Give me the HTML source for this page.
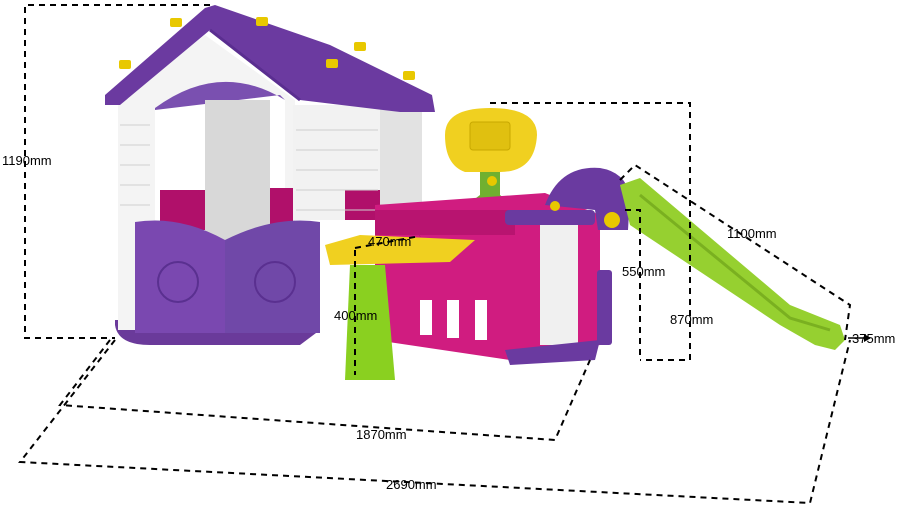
<!DOCTYPE html>
<html><head><meta charset="utf-8"><style>
html,body{margin:0;padding:0;background:#fff;}
svg{display:block}
text{font-family:"Liberation Sans",sans-serif;font-size:13px;fill:#000}
</style></head><body>
<svg width="900" height="507" viewBox="0 0 900 507" xmlns="http://www.w3.org/2000/svg">
<rect width="900" height="507" fill="#fff"/>
<!-- house base -->
<path d="M115 325 Q118 345 150 345 L300 345 L320 330 L320 320 L115 320Z" fill="#6a3a9a"/>
<!-- walls -->
<path d="M118 100 L205 35 L295 100 L295 330 L118 330Z" fill="#f4f4f4"/>
<rect x="293" y="105" width="87" height="115" fill="#f2f2f2"/>
<rect x="380" y="105" width="42" height="115" fill="#e2e2e2"/>
<!-- opening -->
<path d="M155 108 Q220 60 285 100 L285 220 L155 220Z" fill="#fff"/>
<path d="M155 108 Q220 60 285 100 L280 95 L155 110Z" fill="#7a50b0"/>
<rect x="205" y="100" width="65" height="200" fill="#d8d8d8"/>
<rect x="160" y="190" width="45" height="40" fill="#b0106a"/>
<rect x="270" y="188" width="23" height="40" fill="#b0106a"/>
<rect x="345" y="190" width="35" height="30" fill="#b0106a"/>
<g stroke="#cfcfcf" stroke-width="1">
<path d="M120 125 H150 M120 145 H150 M120 165 H150 M120 185 H150 M120 205 H150"/>
<path d="M296 130 H378 M296 150 H378 M296 170 H378 M296 190 H378 M296 210 H378"/>
</g>
<!-- roof -->
<path d="M105 95 L205 8 L215 5 L330 45 L432 95 L435 112 L400 112 L300 100 L210 30 L120 105 L105 105 Z" fill="#6b3aa0"/>
<path d="M210 30 L300 100" stroke="#5a2e90" stroke-width="3"/>
<g fill="#e8c800">
<rect x="170" y="18" width="12" height="9" rx="2"/><rect x="256" y="17" width="12" height="9" rx="2"/>
<rect x="354" y="42" width="12" height="9" rx="2"/><rect x="326" y="59" width="12" height="9" rx="2"/>
<rect x="403" y="71" width="12" height="9" rx="2"/><rect x="119" y="60" width="12" height="9" rx="2"/>
</g>
<!-- purple fence -->
<path d="M135 222 Q180 215 225 240 L225 333 L135 333Z" fill="#7a48b0"/>
<path d="M225 240 Q275 215 320 222 L320 333 L225 333Z" fill="#7048a8"/>
<circle cx="178" cy="282" r="20" fill="none" stroke="#5a3090" stroke-width="2"/>
<circle cx="275" cy="282" r="20" fill="none" stroke="#5a3090" stroke-width="2"/>
<!-- hoop -->
<path d="M445 135 Q445 108 490 108 Q537 108 537 135 Q535 172 500 172 L465 172 Q445 165 445 135Z" fill="#f0d020"/>
<rect x="470" y="122" width="40" height="28" rx="3" fill="#e0c010" stroke="#c8a800"/>
<path d="M480 172 L500 172 L500 195 L520 210 L460 210 L480 195Z" fill="#70b030"/>
<circle cx="492" cy="181" r="5" fill="#e8c800"/>
<!-- pink enclosure -->
<path d="M375 205 L545 193 L600 215 L600 345 L510 360 L375 340Z" fill="#d01c80"/>
<rect x="375" y="210" width="140" height="25" fill="#b81470"/>
<rect x="540" y="225" width="38" height="120" fill="#f0f0f0"/>
<rect x="505" y="210" width="90" height="15" rx="4" fill="#6a3aa0"/>
<rect x="420" y="300" width="12" height="35" fill="#fff"/><rect x="447" y="300" width="12" height="38" fill="#fff"/><rect x="475" y="300" width="12" height="40" fill="#fff"/>
<path d="M505 350 L600 340 L595 360 L510 365Z" fill="#6a3aa0"/>
<path d="M545 205 Q560 165 600 168 Q625 172 630 195 L628 230 L598 230 L595 210Z" fill="#6a3aa0"/>
<rect x="597" y="270" width="15" height="75" rx="3" fill="#6a3aa0"/>
<circle cx="612" cy="220" r="8" fill="#e8c800"/>
<circle cx="555" cy="206" r="5" fill="#e8c800"/>
<!-- table -->
<path d="M325 245 L360 235 L475 240 L450 262 L330 265Z" fill="#f0d020"/>
<path d="M350 265 L385 265 L395 380 L345 380Z" fill="#8ad020"/>
<!-- slide -->
<path d="M620 185 L640 178 L790 305 L840 325 L845 340 L835 350 L815 345 L780 325 L630 225Z" fill="#96d030"/>
<path d="M640 195 L790 318 L830 330" fill="none" stroke="#7ab020" stroke-width="3"/>
<g fill="none" stroke="#000" stroke-width="2" stroke-dasharray="6,5">
<path d="M210 5 L25 5 L25 338 L115 338"/>
<path d="M110 340 L60 405 L555 440 L590 360"/>
<path d="M115 340 L20 462 L810 503 L850 340"/>
<path d="M490 103 L690 103 L690 360 L640 360"/>
<path d="M625 210 L640 210 L640 360"/>
<path d="M620 180 L635 165 L850 305 L845 340"/>
<path d="M355 248 L420 236"/>
<path d="M355 250 L355 375"/>
</g>
<path d="M848 338 L870 338" stroke="#000" stroke-width="1.5"/>
<path d="M864 334 L871 338 L864 342Z" fill="#000"/>
<text x="2" y="165">1190mm</text>
<text x="368" y="246">470mm</text>
<text x="334" y="320">400mm</text>
<text x="622" y="276">550mm</text>
<text x="670" y="324">870mm</text>
<text x="727" y="238">1100mm</text>
<text x="852" y="343">375mm</text>
<text x="356" y="439">1870mm</text>
<text x="386" y="489">2690mm</text>
</svg>
</body></html>
